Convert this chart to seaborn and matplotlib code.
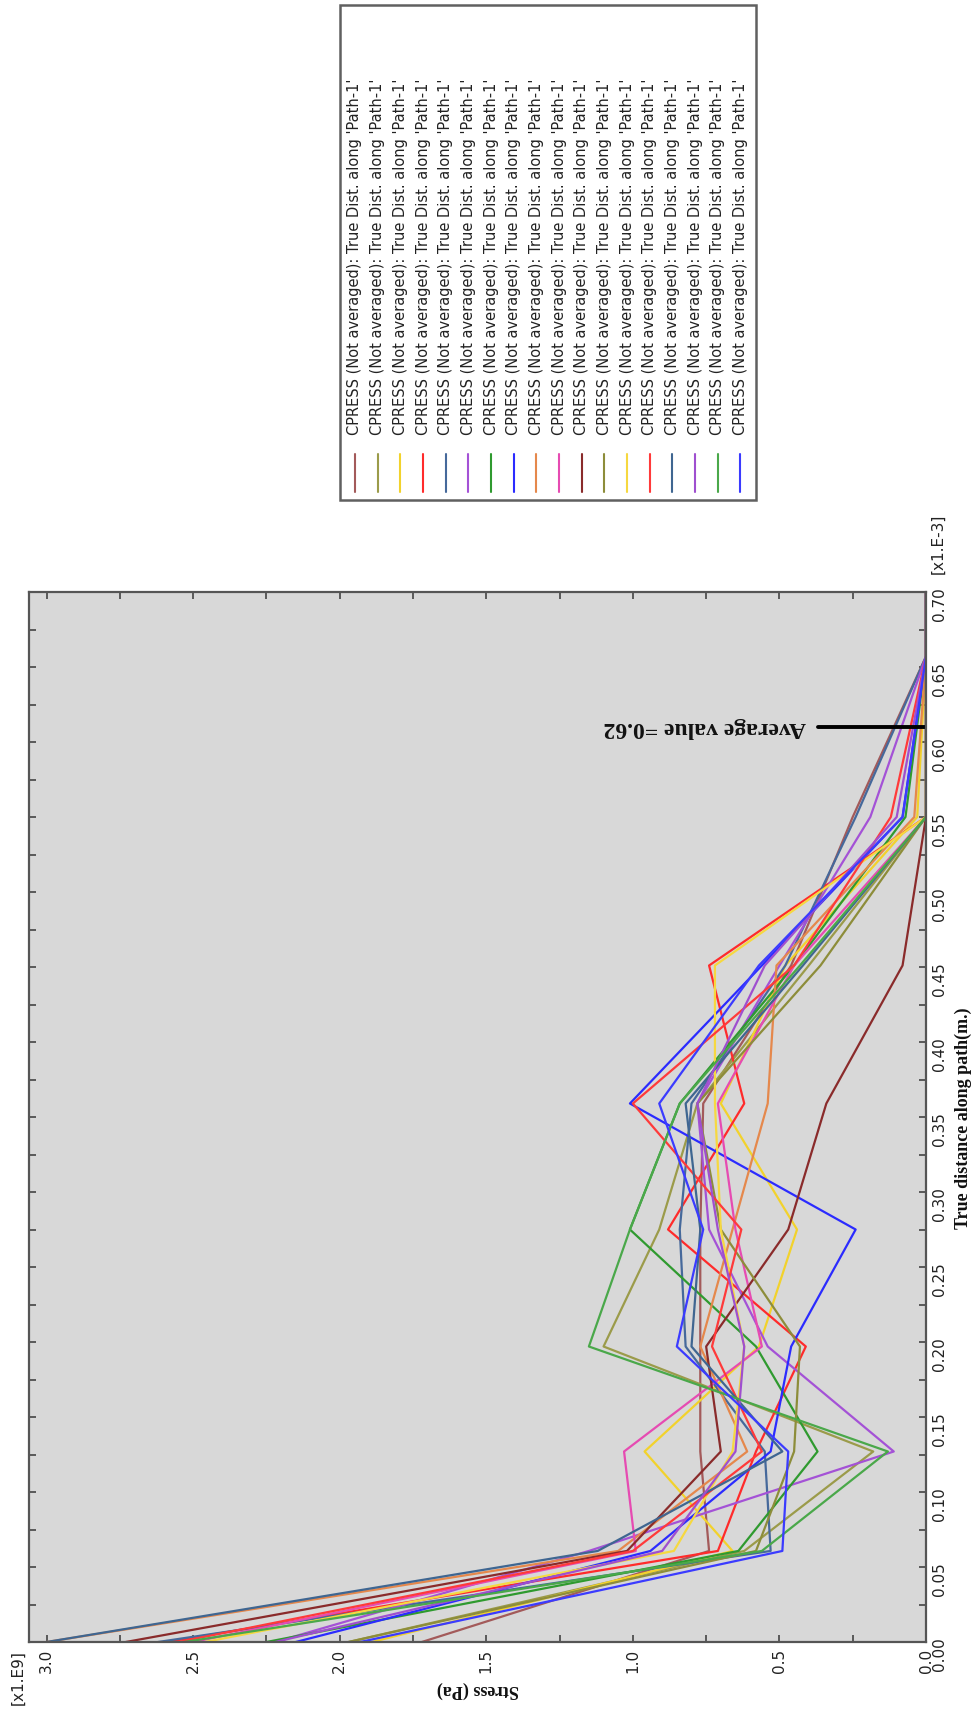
import matplotlib
matplotlib.use('Agg')
import matplotlib.pyplot as plt
import seaborn as sns
import pandas as pd
from matplotlib.lines import Line2D
from matplotlib.patches import Rectangle
from matplotlib.ticker import MultipleLocator, FormatStrFormatter

# nodes along the path (m, x1.E-3)
distance = [0, 0.0607, 0.127, 0.197, 0.275, 0.359, 0.451, 0.55, 0.657, 0.70]

# CPRESS (x1.E9 Pa) for each curve
s01 = [1.72, 0.74, 0.77, 0.77, 0.77, 0.76, 0.46, 0.25, 0, 0]
s02 = [1.97, 0.62, 0.18, 1.10, 0.91, 0.78, 0.40, 0.00, 0, 0]
s03 = [1.89, 0.66, 0.96, 0.57, 0.44, 0.70, 0.48, 0.03, 0, 0]
s04 = [2.59, 0.71, 0.58, 0.41, 0.88, 0.62, 0.74, 0.00, 0, 0]
s05 = [2.62, 0.53, 0.55, 0.82, 0.84, 0.80, 0.48, 0.24, 0, 0]
s06 = [2.22, 1.15, 0.11, 0.54, 0.74, 0.78, 0.50, 0.19, 0, 0]
s07 = [2.25, 0.64, 0.37, 0.58, 1.01, 0.84, 0.45, 0.07, 0, 0]
s08 = [2.15, 0.94, 0.53, 0.46, 0.24, 1.01, 0.56, 0.08, 0, 0]
s09 = [3.00, 1.05, 0.61, 0.77, 0.66, 0.54, 0.51, 0.04, 0, 0]
s10 = [2.50, 0.99, 1.03, 0.56, 0.65, 0.71, 0.45, 0.00, 0, 0]
s11 = [2.73, 1.02, 0.70, 0.75, 0.47, 0.34, 0.08, 0.00, 0, 0]
s12 = [1.97, 0.58, 0.45, 0.43, 0.70, 0.78, 0.36, 0.00, 0, 0]
s13 = [2.46, 0.86, 0.66, 0.62, 0.70, 0.72, 0.72, 0.00, 0, 0]
s14 = [2.55, 1.00, 0.56, 0.73, 0.63, 1.00, 0.45, 0.12, 0, 0]
s15 = [3.00, 1.12, 0.49, 0.80, 0.77, 0.82, 0.42, 0.00, 0, 0]
s16 = [2.22, 0.90, 0.65, 0.62, 0.71, 0.78, 0.55, 0.10, 0, 0]
s17 = [2.53, 0.56, 0.13, 1.15, 1.01, 0.84, 0.43, 0.00, 0, 0]
s18 = [1.93, 0.49, 0.47, 0.85, 0.76, 0.91, 0.57, 0.08, 0, 0]

curves = [s01, s02, s03, s04, s05, s06, s07, s08, s09,
          s10, s11, s12, s13, s14, s15, s16, s17, s18]
colors = ['#a35a5a', '#9b9b4a', '#f2d22c', '#ff2b2b', '#46699b', '#a452d6',
          '#2f9a2f', '#2b2bff', '#e5884c', '#e64bb2', '#8a2b2b', '#8d8d3a',
          '#f6d840', '#ff3a3a', '#3f6691', '#9f4fcf', '#4aa84a', '#3b3bff']
label = "CPRESS (Not averaged): True Dist. along 'Path-1'"

rows = []
for i, vals in enumerate(curves):
    for d, v in zip(distance, vals):
        rows.append({'curve': i, 'distance': d, 'stress': v})
df = pd.DataFrame(rows)

sns.set_style('ticks')
plt.rcParams['font.family'] = ['DejaVu Sans']

W, H = 977, 1715
fig = plt.figure(figsize=(W / 100, H / 100), dpi=100)
ax = fig.add_axes([29 / W, 1 - 1643 / H, (926 - 29) / W, (1643 - 593) / H])
ax.set_facecolor('#d8d8d8')

sns.lineplot(data=df, x='stress', y='distance', hue='curve', units='curve',
             palette=colors, estimator=None, sort=False, legend=False,
             linewidth=1.6, ax=ax)

ax.set_xlim(3.06, 0)
ax.set_ylim(0, 0.70)
ax.xaxis.set_major_locator(MultipleLocator(0.5))
ax.xaxis.set_minor_locator(MultipleLocator(0.25))
ax.xaxis.set_major_formatter(FormatStrFormatter('%.1f'))
ax.yaxis.set_major_locator(MultipleLocator(0.05))
ax.yaxis.set_minor_locator(MultipleLocator(0.025))
ax.yaxis.set_major_formatter(FormatStrFormatter('%.2f'))
ax.tick_params(which='both', direction='in', top=True, bottom=True, left=True,
               right=True, labelleft=False, labelright=True, length=5,
               width=1.2, color='#444444', labelcolor='#222222', labelsize=11)
ax.tick_params(axis='both', labelrotation=90, pad=4)
for sp in ax.spines.values():
    sp.set_color('#555555')
    sp.set_linewidth(1.6)

bold = dict(family='Liberation Serif', fontweight='bold', color='#111111')
ax.set_xlabel('Stress (Pa)', rotation=180, fontsize=13, labelpad=6, **bold)
ax.yaxis.set_label_position('right')
ax.set_ylabel('True distance along path(m.)', rotation=90, fontsize=13,
              labelpad=6, **bold)

ax.annotate('[x1.E9]', xy=(0, 0), xycoords='axes fraction', xytext=(-11, -7),
            textcoords='offset pixels', rotation=90, ha='center', va='top',
            fontsize=11, color='#222222')
ax.annotate('[x1.E-3]', xy=(1, 1), xycoords='axes fraction', xytext=(12, 19),
            textcoords='offset pixels', rotation=90, ha='center', va='bottom',
            fontsize=11, color='#222222')

# average marker
ax.plot([0.37, 0], [0.61, 0.61], color='black', linewidth=2.8)
ax.text(0.41, 0.61, 'Average value =0.62', rotation=180, ha='right',
        va='center', fontsize=17, **bold)

# legend, rotated with the chart
fig.add_artist(Rectangle((340 / W, 1 - 501 / H), (756 - 340) / W, (501 - 6) / H,
                         transform=fig.transFigure, facecolor='white',
                         edgecolor='#606060', linewidth=1.8))
for i, c in enumerate(colors):
    x = (355 + i * 22.67) / W
    fig.add_artist(Line2D([x, x], [1 - 493 / H, 1 - 455 / H],
                          transform=fig.transFigure, color=c, linewidth=1.5))
    fig.text(x, 1 - 435 / H, label, rotation=90, ha='center', va='bottom',
             fontsize=10.5, color='#222222')

fig.savefig('out.png', dpi=100)
